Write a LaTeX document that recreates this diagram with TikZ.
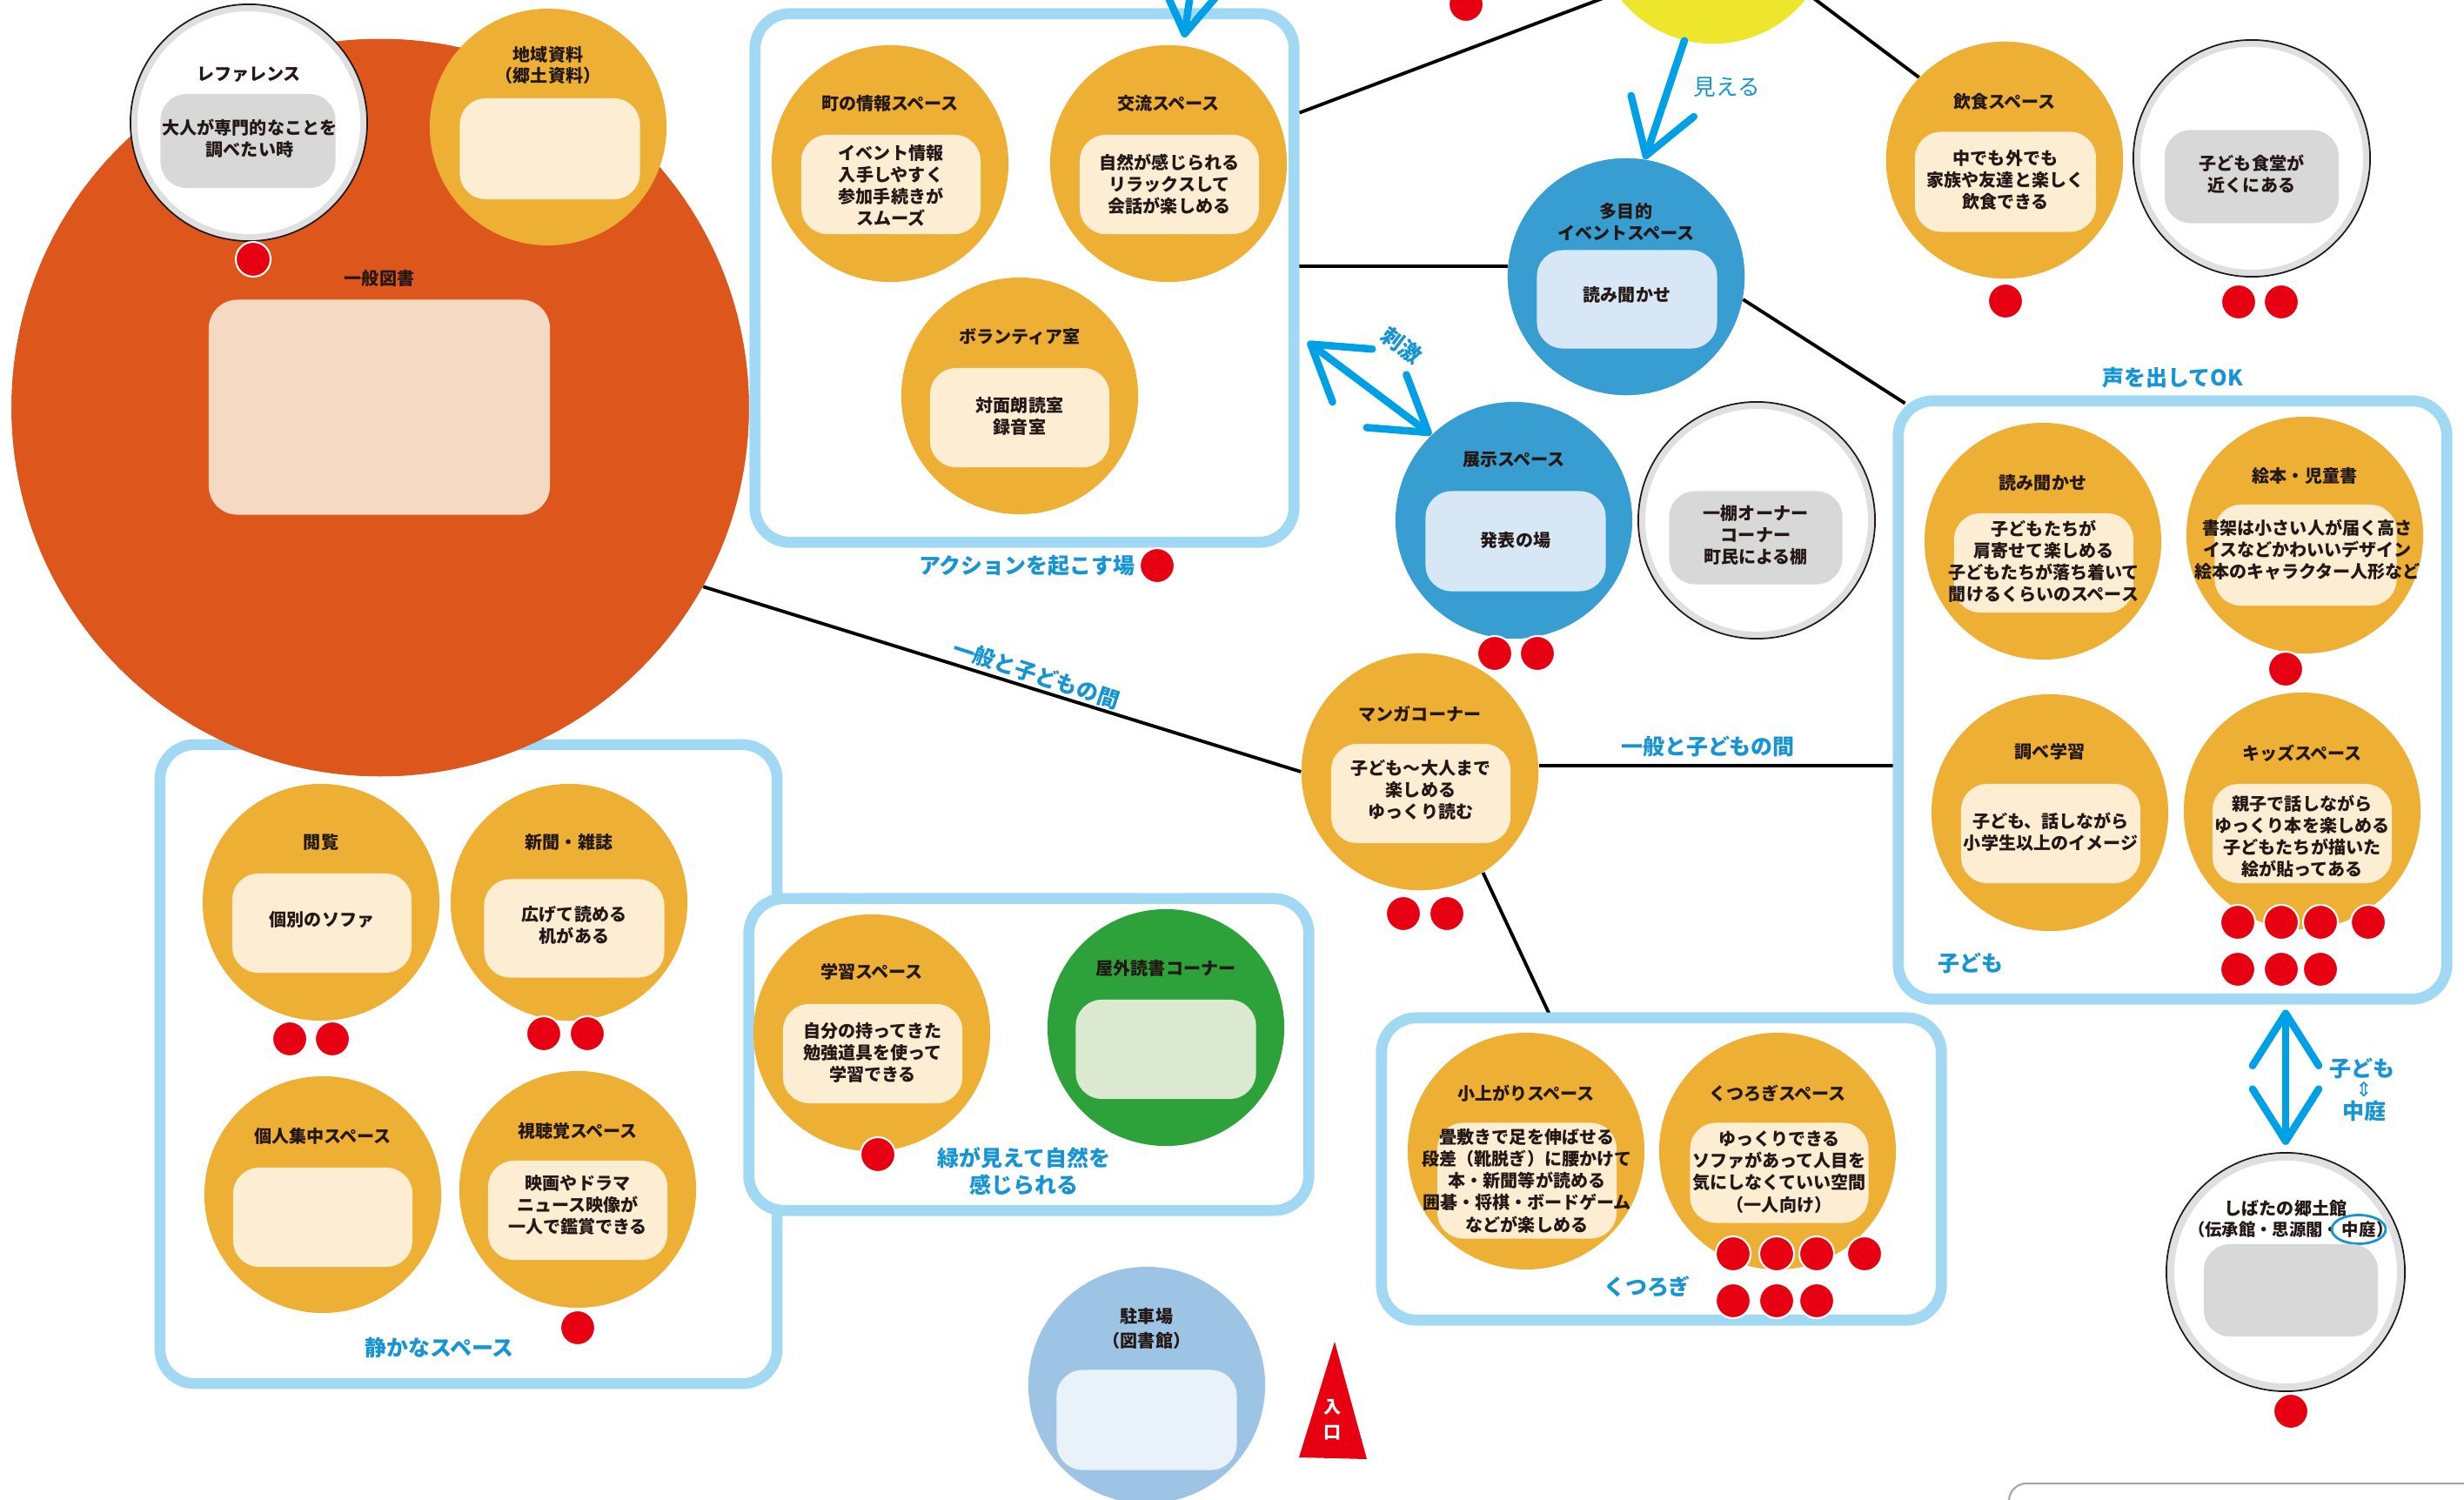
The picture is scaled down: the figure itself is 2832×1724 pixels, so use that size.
\documentclass[tikz,border=0pt]{standalone}
\usepackage{fontspec}
\newfontfamily\jp{Noto Sans CJK JP}
\newfontfamily\dejavu{DejaVu Sans}
\usetikzlibrary{arrows.meta}

\definecolor{orangeL}{RGB}{221,86,27}
\definecolor{mustard}{RGB}{237,176,53}
\definecolor{cream}{RGB}{252,237,211}
\definecolor{peach}{RGB}{245,217,194}
\definecolor{skyC}{RGB}{56,157,209}
\definecolor{skyP}{RGB}{216,231,245}
\definecolor{zoneblue}{RGB}{161,216,244}
\definecolor{capblue}{RGB}{22,148,212}
\definecolor{arrblue}{RGB}{0,160,230}
\definecolor{dotred}{RGB}{230,0,18}
\definecolor{leaf}{RGB}{46,162,58}
\definecolor{leafP}{RGB}{218,233,207}
\definecolor{sunY}{RGB}{238,230,44}
\definecolor{shade}{RGB}{216,216,216}
\definecolor{ringgray}{RGB}{222,223,224}
\definecolor{parkB}{RGB}{157,195,229}
\definecolor{parkP}{RGB}{233,241,249}
\definecolor{ink}{RGB}{35,24,21}

\tikzset{
  spotc/.style={circle, inner sep=0pt, minimum size=2.72cm, fill=#1},
  ringc/.style={circle, inner sep=0pt, minimum size=2.64cm, fill=white, draw=ringgray, line width=0.08cm},
  panelr/.style={rectangle, rounded corners=0.3cm, inner sep=0pt, minimum width=2.06cm, minimum height=1.14cm, fill=#1},
  ttlt/.style={font=\jp\bfseries\fontsize{5.7}{7}\selectfont, text=ink, align=center, inner sep=0pt},
  bodyt/.style={font=\jp\bfseries\fontsize{5.7}{7.15}\selectfont, text=ink, align=center, inner sep=0pt},
  zonebox/.style={rectangle, draw=zoneblue, line width=0.125cm, fill=white, rounded corners=0.4cm, inner sep=0pt},
  zonecap/.style={font=\jp\bfseries\fontsize{7.1}{8.9}\selectfont, text=capblue, align=center, inner sep=0pt},
  linkl/.style={draw=black, line width=1.1pt},
  reddot/.style={fill=dotred, draw=white, line width=0.6pt},
  arrowb/.style={draw=arrblue, line width=0.085cm, line cap=round, line join=round},
  outring/.style={draw=ink, line width=0.5pt},
}
\newcommand\rdot[1]{\filldraw[reddot] (#1) circle[radius=0.2cm];}

\begin{document}
\begin{tikzpicture}[x=0.01cm, y=-0.01cm]
\useasboundingbox (0,0) rectangle (2832,1724);
\clip (0,0) rectangle (2832,1724);

% ---------- node skeleton needed for connectors ----------
\node[spotc=sunY] (sun) at (1969,-86) {};
\node[zonebox, minimum width=6.19cm, minimum height=6.07cm] (act) at (1177.5,319.5) {};
\node[zonebox, minimum width=6.30cm, minimum height=6.87cm] (kids) at (2497,804.5) {};
\node[zonebox, minimum width=6.43cm, minimum height=3.47cm] (kutsu) at (1909.5,1343.5) {};
\node[zonebox, minimum width=7.09cm, minimum height=7.34cm] (quiet) at (538.5,1223) {};
\node[zonebox, minimum width=6.43cm, minimum height=3.58cm] (green) at (1182.5,1212) {};

\node[spotc=skyC] (mp) at (1869,318) {};
\node[spotc=mustard] (food) at (2304,184) {};
\node[spotc=mustard] (manga) at (1632,887) {};
\node[spotc=orangeL, minimum size=8.47cm] (gen) at (437,468.5) {};

% ---------- black connectors (under the shapes) ----------
\draw[linkl] (act.31) -- (sun.215);
\draw[linkl] (sun.-36) -- (food.136);
\draw[linkl] (mp.175) -- (mp.175 -| act.east);
\draw[linkl] (mp.-11) -- ([shift={(14,9)}]kids.north west);
\draw[linkl] (gen.-29) -- (manga.west);
\draw[linkl] (manga.3) -- (manga.3 -| kids.west);
\draw[linkl] (manga.-58) -- ([shift={(202,8)}]kutsu.north west);

% redraw boxes and circles above the connectors
\node[zonebox, minimum width=6.19cm, minimum height=6.07cm] (act2) at (act) {};
\node[zonebox, minimum width=6.30cm, minimum height=6.87cm] (kids2) at (kids) {};
\node[zonebox, minimum width=6.43cm, minimum height=3.47cm] (kutsu2) at (kutsu) {};
\node[spotc=sunY] (sun2) at (sun) {};

% ---------- general collection ----------
\node[spotc=orangeL, minimum size=8.47cm] (gen2) at (gen) {};
\node[ttlt] (gen-t) at (436,320) {一般図書};
\node[panelr=peach, minimum width=3.92cm, minimum height=2.47cm, rounded corners=0.33cm] (gen-p) at (436,468) {};

% reference desk
\node[ringc] (ref) at (286,141) {};
\draw[outring] (ref.center) circle[radius=1.36cm];
\node[ttlt] (ref-t) at (286,86) {レファレンス};
\node[panelr=shade, minimum width=2.01cm, minimum height=1.08cm] (ref-p) at (285,162) {};
\node[bodyt] (ref-x) at (287,159) {大人が専門的なことを\\調べたい時};
\rdot{291,298}

% local materials
\node[spotc=mustard] (loc) at (630,146) {};
\node[ttlt] (loc-t) at (630,75) {地域資料\\（郷土資料）};
\node[panelr=cream, minimum width=2.07cm, minimum height=1.16cm] (loc-p) at (632,171) {};

% ---------- action zone ----------
\node[spotc=mustard] (info) at (1023,188) {};
\node[ttlt] (info-t) at (1023,119) {町の情報スペース};
\node[panelr=cream] (info-p) at (1024,212) {};
\node[bodyt] (info-x) at (1024,213) {イベント情報\\入手しやすく\\参加手続きが\\スムーズ};

\node[spotc=mustard] (meet) at (1343,188) {};
\node[ttlt] (meet-t) at (1343,119) {交流スペース};
\node[panelr=cream] (meet-p) at (1344,212) {};
\node[bodyt] (meet-x) at (1344,212) {自然が感じられる\\リラックスして\\会話が楽しめる};

\node[spotc=mustard] (vol) at (1172,455) {};
\node[ttlt] (vol-t) at (1172,387) {ボランティア室};
\node[panelr=cream] (vol-p) at (1172,480) {};
\node[bodyt] (vol-x) at (1172,478) {対面朗読室\\録音室};

\node[zonecap] (act-c) at (1180,650) {アクションを起こす場};
\rdot{1330,650}

% ---------- event / exhibition ----------
\node[spotc=skyC] (mp2) at (mp) {};
\node[ttlt] (mp-t) at (1869,255) {多目的\\イベントスペース};
\node[panelr=skyP, minimum width=2.07cm, minimum height=1.13cm] (mp-p) at (1870,344) {};
\node[bodyt] (mp-x) at (1870,339) {読み聞かせ};

\node[spotc=skyC] (exh) at (1740,598) {};
\node[ttlt] (exh-t) at (1740,528) {展示スペース};
\node[panelr=skyP, minimum width=2.07cm, minimum height=1.15cm] (exh-p) at (1742,622) {};
\node[bodyt] (exh-x) at (1742,621) {発表の場};
\rdot{1718,751} \rdot{1767,751}

\node[ringc] (shelf) at (2019,598) {};
\draw[outring] (shelf.center) circle[radius=1.36cm];
\node[panelr=shade, minimum width=1.99cm, minimum height=1.07cm] (shelf-p) at (2018,618) {};
\node[bodyt] (shelf-x) at (2018,615) {一棚オーナー\\コーナー\\町民による棚};

% ---------- eating ----------
\node[spotc=mustard] (food2) at (food) {};
\node[ttlt] (food-t) at (2304,117) {飲食スペース};
\node[panelr=cream, minimum width=2.08cm, minimum height=1.15cm] (food-p) at (2305,209) {};
\node[bodyt] (food-x) at (2305,207) {中でも外でも\\家族や友達と楽しく\\飲食できる};
\rdot{2305,346}

\node[ringc] (diner) at (2588,182) {};
\draw[outring] (diner.center) circle[radius=1.36cm];
\node[panelr=shade, minimum width=2.0cm, minimum height=1.07cm] (diner-p) at (2588,203) {};
\node[bodyt] (diner-x) at (2588,200) {子ども食堂が\\近くにある};
\rdot{2573,347} \rdot{2622,347}

\rdot{1685,5}

% ---------- children zone ----------
\node[zonecap] (kids-c) at (2497,434) {声を出してOK};
\node[zonecap] (kids-n) at (2265,1107) {子ども};

\node[spotc=mustard] (story) at (2348,622) {};
\node[ttlt] (story-t) at (2348,555) {読み聞かせ};
\node[panelr=cream] (story-p) at (2349,647) {};
\node[bodyt] (story-x) at (2349,645) {子どもたちが\\肩寄せて楽しめる\\子どもたちが落ち着いて\\聞けるくらいのスペース};

\node[spotc=mustard] (pict) at (2649,615) {};
\node[ttlt] (pict-t) at (2649,547) {絵本・児童書};
\node[panelr=cream, minimum width=2.09cm, minimum height=1.16cm] (pict-p) at (2650,638) {};
\node[bodyt] (pict-x) at (2652,632) {書架は小さい人が届く高さ\\イスなどかわいいデザイン\\絵本のキャラクター人形など};
\rdot{2627,769}

\node[spotc=mustard] (study) at (2356,934) {};
\node[ttlt] (study-t) at (2356,864) {調べ学習};
\node[panelr=cream] (study-p) at (2357,958) {};
\node[bodyt] (study-x) at (2357,956) {子ども、話しながら\\小学生以上のイメージ};

\node[spotc=mustard] (play) at (2646,932) {};
\node[ttlt] (play-t) at (2646,866) {キッズスペース};
\node[panelr=cream] (play-p) at (2646,958) {};
\node[bodyt] (play-x) at (2646,961) {親子で話しながら\\ゆっくり本を楽しめる\\子どもたちが描いた\\絵が貼ってある};
\rdot{2572,1060} \rdot{2622,1060} \rdot{2667,1060} \rdot{2722,1060}
\rdot{2572,1114} \rdot{2622,1114} \rdot{2667,1114}

% ---------- local history museum ----------
\node[ringc] (hist) at (2627,1462) {};
\draw[outring] (hist.center) circle[radius=1.37cm];
\node[ttlt] (hist-t) at (2627,1389) {しばたの郷土館};
\node[ttlt, anchor=east, font=\jp\bfseries\fontsize{5.5}{7}\selectfont] (hist-a) at (2690,1413) {（伝承館・思源閣・};
\node[ttlt, font=\jp\bfseries\fontsize{5.5}{7}\selectfont] (hist-n) at (2711,1413) {中庭};
\node[ttlt, anchor=west, font=\jp\bfseries\fontsize{5.5}{7}\selectfont] (hist-b) at (2731,1413) {）};
\draw[capblue, line width=0.8pt] (hist-n.center) ellipse[x radius=0.31cm, y radius=0.165cm];
\node[panelr=shade, minimum width=2.0cm, minimum height=1.06cm] (hist-p) at (2633,1483) {};
\rdot{2633,1622}

\draw[arrowb, {Straight Barb[length=0.6cm,width=0.76cm,round]}-{Straight Barb[length=0.6cm,width=0.76cm,round]}, shorten <=0.06cm, shorten >=0.1cm] (hist.north |- kids.south) -- (hist.north);
\node[zonecap] (yard-a) at (2715,1228) {子ども};
\node[text=capblue, font=\dejavu\fontsize{6.5}{7}\selectfont, inner sep=0pt] (yard-b) at (2717,1252) {⇕};
\node[zonecap] (yard-c) at (2717,1277) {中庭};

% ---------- quiet zone ----------
\node[zonecap] (quiet-c) at (505,1549) {静かなスペース};

\node[spotc=mustard] (read) at (369,1037) {};
\node[ttlt] (read-t) at (369,968) {閲覧};
\node[panelr=cream] (read-p) at (370,1061) {};
\node[bodyt] (read-x) at (370,1057) {個別のソファ};
\rdot{333,1194} \rdot{382,1194}

\node[spotc=mustard] (news) at (654,1037) {};
\node[ttlt] (news-t) at (654,968) {新聞・雑誌};
\node[panelr=cream, minimum width=2.07cm, minimum height=1.13cm] (news-p) at (660,1067) {};
\node[bodyt] (news-x) at (660,1063) {広げて読める\\机がある};
\rdot{625,1188} \rdot{675,1188}

\node[spotc=mustard] (solo) at (371,1373) {};
\node[ttlt] (solo-t) at (371,1306) {個人集中スペース};
\node[panelr=cream] (solo-p) at (371,1399) {};

\node[spotc=mustard] (av) at (664,1367) {};
\node[ttlt] (av-t) at (664,1300) {視聴覚スペース};
\node[panelr=cream] (av-p) at (664,1391) {};
\node[bodyt] (av-x) at (664,1385) {映画やドラマ\\ニュース映像が\\一人で鑑賞できる};
\rdot{664,1526}

% ---------- nature zone ----------
\node[zonebox, minimum width=6.43cm, minimum height=3.58cm] (green2) at (green) {};
\node[spotc=mustard] (learn) at (1002,1187) {};
\node[ttlt] (learn-t) at (1002,1117) {学習スペース};
\node[panelr=cream] (learn-p) at (1003,1211) {};
\node[bodyt] (learn-x) at (1003,1210) {自分の持ってきた\\勉強道具を使って\\学習できる};
\rdot{1009,1327}

\node[spotc=leaf] (out) at (1340,1181) {};
\node[ttlt] (out-t) at (1340,1113) {屋外読書コーナー};
\node[panelr=leafP, minimum width=2.07cm] (out-p) at (1340,1206) {};
\node[zonecap] (green-c) at (1177,1346) {緑が見えて自然を\\感じられる};

% ---------- manga / relax ----------
\node[spotc=mustard] (manga2) at (manga) {};
\node[ttlt] (manga-t) at (1632,821) {マンガコーナー};
\node[panelr=cream] (manga-p) at (1633,912) {};
\node[bodyt] (manga-x) at (1633,908) {子ども〜大人まで\\楽しめる\\ゆっくり読む};
\rdot{1613,1050} \rdot{1663,1050}
\node[zonecap] (mid-c) at (1963,858) {一般と子どもの間};
\node[zonecap, rotate=-18] (mid-d) at (1191,775) {一般と子どもの間};

\node[zonecap] (kutsu-c) at (1893,1479) {くつろぎ};
\node[spotc=mustard] (raised) at (1754,1323) {};
\node[ttlt] (raised-t) at (1754,1257) {小上がりスペース};
\node[panelr=cream, minimum height=1.33cm] (raised-p) at (1755,1357) {};
\node[bodyt] (raised-x) at (1755,1357) {畳敷きで足を伸ばせる\\段差（靴脱ぎ）に腰かけて\\本・新聞等が読める\\囲碁・将棋・ボードゲーム\\などが楽しめる};

\node[spotc=mustard] (relax) at (2043,1323) {};
\node[ttlt] (relax-t) at (2043,1257) {くつろぎスペース};
\node[panelr=cream, minimum width=2.05cm, minimum height=1.15cm] (relax-p) at (2045,1348) {};
\node[bodyt] (relax-x) at (2045,1347) {ゆっくりできる\\ソファがあって人目を\\気にしなくていい空間\\（一人向け）};
\rdot{1992,1441} \rdot{2042,1441} \rdot{2088,1441} \rdot{2143,1441}
\rdot{1992,1495} \rdot{2042,1495} \rdot{2088,1495}

% ---------- parking and entrance ----------
\node[spotc=parkB] (park) at (1318,1592) {};
\node[ttlt, font=\jp\bfseries\fontsize{5.7}{8}\selectfont] (park-t) at (1318,1527) {駐車場\\（図書館）};
\node[panelr=parkP, minimum width=2.07cm, minimum height=1.15cm] (park-p) at (1318,1632) {};

\fill[dotred] (1534,1542) -- (1571,1677) -- (1493,1675) -- cycle;
\node[font=\jp\bfseries\fontsize{5.7}{8.2}\selectfont, text=white, align=center, inner sep=0pt] (gate) at (1532,1632) {入\\口};

\draw[gray!70, line width=0.6pt, rounded corners=0.2cm] (2309,1780) -- (2309,1705) -- (2900,1705);

% ---------- blue arrows ----------
\coordinate (topA) at (1377,-70);
\coordinate (topB) at (1361,43);
\draw[arrowb, -{Straight Barb[length=0.6cm,width=0.76cm,round]}] (topA) -- (topB);

\draw[arrowb, -{Straight Barb[length=0.6cm,width=0.76cm,round]}] (sun.-104) -- (mp.81);
\node[text=capblue, font=\jp\fontsize{7.3}{8}\selectfont, inner sep=0pt] (see) at (1985,100) {見える};

\coordinate (stimA) at (1503,393);
\draw[arrowb, {Straight Barb[length=0.6cm,width=0.76cm,round]}-{Straight Barb[length=0.6cm,width=0.76cm,round]}] (stimA) -- (exh.134);
\node[zonecap, rotate=-37] (stim) at (1611,397) {刺激};

\end{tikzpicture}
\end{document}
